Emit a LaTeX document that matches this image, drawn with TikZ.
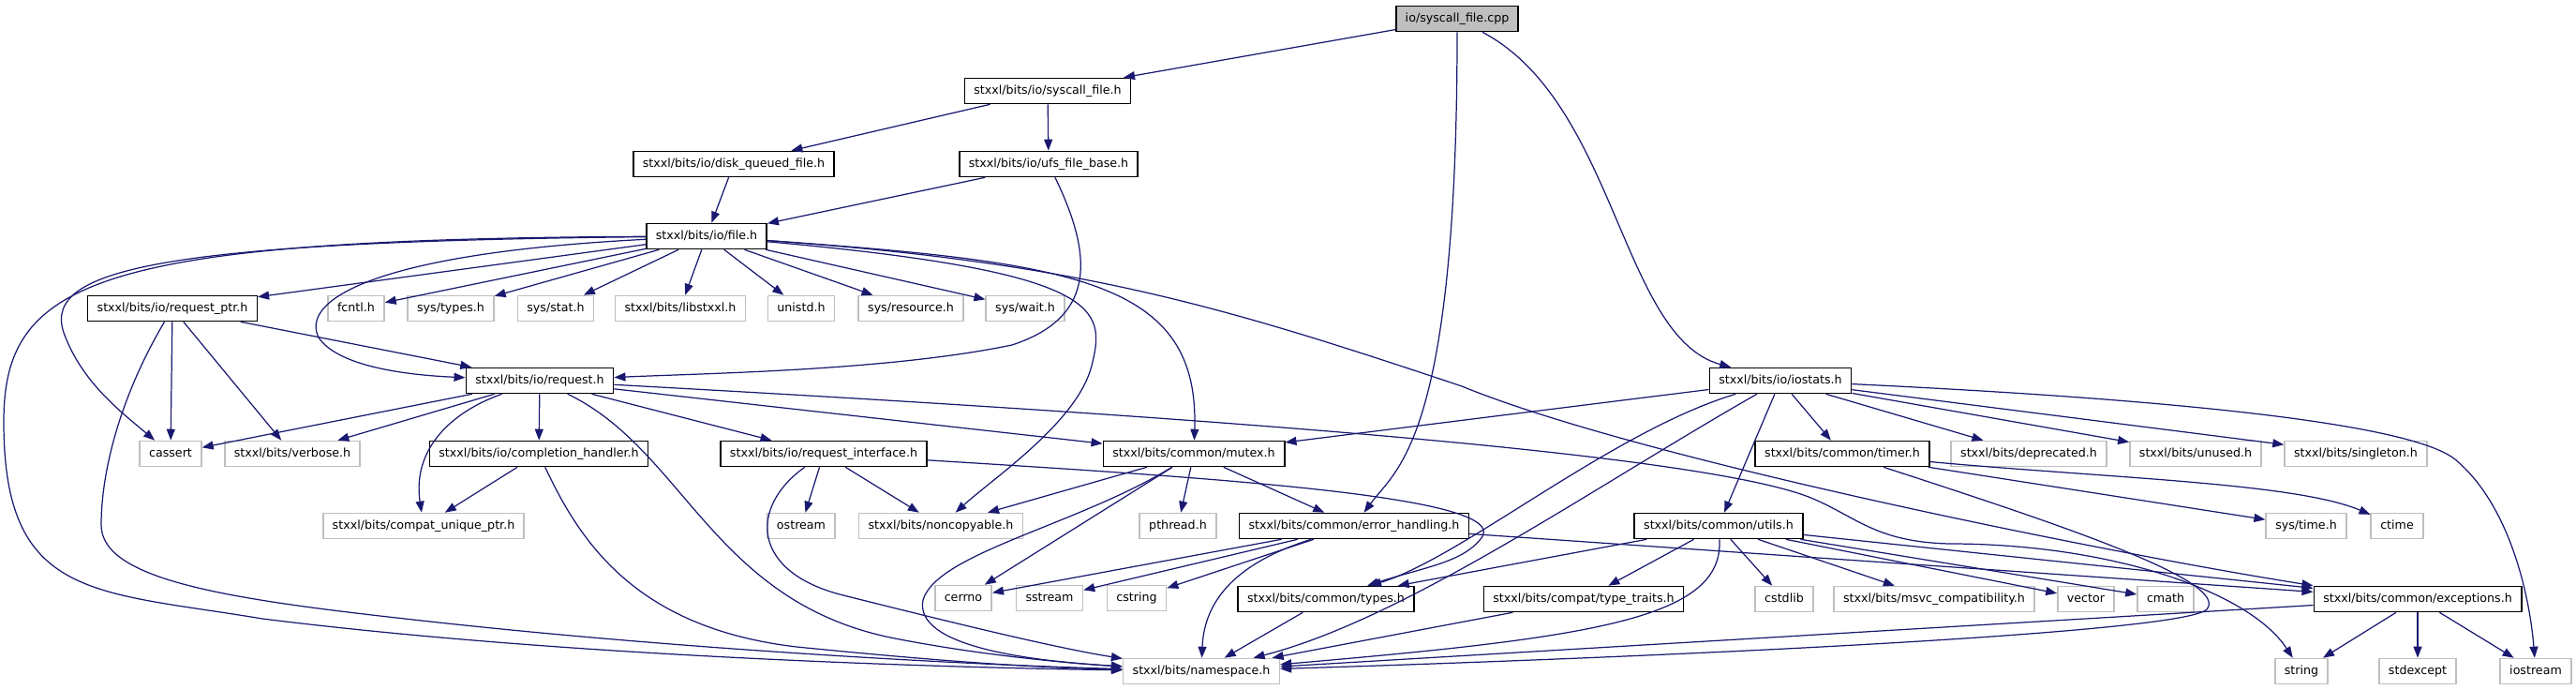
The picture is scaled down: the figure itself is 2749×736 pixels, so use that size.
\documentclass[tikz,border=0pt]{standalone}
\usepackage{fontspec}
\setmainfont{DejaVu Sans}
\usepackage{tikz}
\usetikzlibrary{arrows.meta}
\definecolor{edgeblue}{RGB}{25,25,112}
\definecolor{sysgray}{RGB}{191,191,191}
\definecolor{rootgray}{RGB}{191,191,191}

\begin{document}
\begin{tikzpicture}[
  x=0.02cm, y=-0.02cm,
  font=\fontsize{7.2}{8.6}\selectfont,
  docbox/.style={draw=black,line width=0.9pt,fill=white,minimum height=0.54cm,inner xsep=0.2cm,inner ysep=0pt,text height=5.4pt,text depth=1.5pt},
  sysbox/.style={docbox,draw=sysgray},
  rootbox/.style={docbox,fill=rootgray},
  dep/.style={-{Triangle[length=0.24cm,width=0.18cm]},color=edgeblue,line width=0.7pt},
]
\useasboundingbox (0,0) rectangle (2749,736);

\node[rootbox] (root) at (1555,20) {io/syscall\_file.cpp};
\node[docbox] (sysfile) at (1118,97) {stxxl/bits/io/syscall\_file.h};
\node[docbox] (diskq) at (783,175) {stxxl/bits/io/disk\_queued\_file.h};
\node[docbox] (ufs) at (1119,175) {stxxl/bits/io/ufs\_file\_base.h};
\node[docbox] (file) at (754,252) {stxxl/bits/io/file.h};

\node[docbox] (reqptr) at (184,329) {stxxl/bits/io/request\_ptr.h};
\node[sysbox] (fcntl) at (380,329) {fcntl.h};
\node[sysbox] (systypes) at (481,329) {sys/types.h};
\node[sysbox] (sysstat) at (593,329) {sys/stat.h};
\node[sysbox] (libstxxl) at (726,329) {stxxl/bits/libstxxl.h};
\node[sysbox] (unistd) at (855,329) {unistd.h};
\node[sysbox] (sysres) at (972,329) {sys/resource.h};
\node[sysbox] (syswait) at (1094,329) {sys/wait.h};

\node[docbox] (request) at (576,406) {stxxl/bits/io/request.h};
\node[docbox] (iostats) at (1900,406) {stxxl/bits/io/iostats.h};

\node[sysbox] (cassert) at (182,484) {cassert};
\node[sysbox] (verbose) at (312,484) {stxxl/bits/verbose.h};
\node[docbox] (complh) at (575,484) {stxxl/bits/io/completion\_handler.h};
\node[docbox] (reqif) at (879,484) {stxxl/bits/io/request\_interface.h};
\node[docbox] (mutex) at (1274,484) {stxxl/bits/common/mutex.h};
\node[docbox] (timer) at (1966,484) {stxxl/bits/common/timer.h};
\node[sysbox] (deprec) at (2165,484) {stxxl/bits/deprecated.h};
\node[sysbox] (unused) at (2343,484) {stxxl/bits/unused.h};
\node[sysbox] (singleton) at (2514,484) {stxxl/bits/singleton.h};

\node[sysbox] (uniqptr) at (452,561) {stxxl/bits/compat\_unique\_ptr.h};
\node[sysbox] (ostream) at (855,561) {ostream};
\node[sysbox] (noncopy) at (1004,561) {stxxl/bits/noncopyable.h};
\node[sysbox] (pthread) at (1257,561) {pthread.h};
\node[docbox] (errh) at (1445,561) {stxxl/bits/common/error\_handling.h};
\node[docbox] (utils) at (1834,561) {stxxl/bits/common/utils.h};
\node[sysbox] (systime) at (2461,561) {sys/time.h};
\node[sysbox] (ctime) at (2558,561) {ctime};

\node[sysbox] (cerrno) at (1028,638) {cerrno};
\node[sysbox] (sstream) at (1120,638) {sstream};
\node[sysbox] (cstring) at (1213,638) {cstring};
\node[docbox] (types) at (1415,639) {stxxl/bits/common/types.h};
\node[docbox] (typetr) at (1690,639) {stxxl/bits/compat/type\_traits.h};
\node[sysbox] (cstdlib) at (1904,639) {cstdlib};
\node[sysbox] (msvc) at (2064,639) {stxxl/bits/msvc\_compatibility.h};
\node[sysbox] (vector) at (2226,639) {vector};
\node[sysbox] (cmath) at (2311,639) {cmath};
\node[docbox] (except) at (2580,639) {stxxl/bits/common/exceptions.h};

\node[sysbox] (namesp) at (1282,716) {stxxl/bits/namespace.h};
\node[sysbox] (string) at (2456,716) {string};
\node[sysbox] (stdexcept) at (2580,716) {stdexcept};
\node[sysbox] (iostream) at (2706,716) {iostream};

% io/syscall_file.cpp
\draw[dep] (root) -- (sysfile);
\draw[dep] (root) .. controls (1555,470) and (1490,500) .. (errh);
\draw[dep] (root) .. controls (1725,110) and (1730,360) .. (iostats);

\draw[dep] (sysfile) -- (diskq);
\draw[dep] (sysfile) -- (ufs);
\draw[dep] (diskq) -- (file);
\draw[dep] (ufs) -- (file);
\draw[dep] (ufs) .. controls (1170,280) and (1165,340) .. (1080,368) .. controls (950,395) and (760,398) .. (request);

% stxxl/bits/io/file.h
\draw[dep] (file) -- (reqptr);
\draw[dep] (file) -- (fcntl);
\draw[dep] (file) -- (systypes);
\draw[dep] (file) -- (sysstat);
\draw[dep] (file) -- (libstxxl);
\draw[dep] (file) -- (unistd);
\draw[dep] (file) -- (sysres);
\draw[dep] (file) -- (syswait);
\draw[dep] (file) .. controls (400,270) and (320,320) .. (340,360) .. controls (360,390) and (430,400) .. (request);
\draw[dep] (file) .. controls (150,258) and (40,290) .. (70,360) .. controls (90,410) and (130,440) .. (cassert);
\draw[dep] (file) .. controls (100,255) and (4,300) .. (4,450) .. controls (4,640) and (100,630) .. (280,660) .. controls (600,700) and (1000,712) .. (namesp);
\draw[dep] (file) .. controls (1180,290) and (1180,330) .. (1165,390) .. controls (1150,450) and (1060,510) .. (noncopy);
\draw[dep] (file) .. controls (1150,280) and (1280,300) .. (mutex);
\draw[dep] (file) .. controls (1150,280) and (1300,325) .. (1560,412) .. controls (1750,490) and (2250,590) .. (except.north west);

% stxxl/bits/io/request_ptr.h
\draw[dep] (reqptr) -- (cassert);
\draw[dep] (reqptr) -- (verbose);
\draw[dep] (reqptr) -- (request);
\draw[dep] (reqptr) .. controls (130,420) and (108,500) .. (108,560) .. controls (108,620) and (250,640) .. (450,662) .. controls (700,690) and (1000,708) .. (namesp);

% stxxl/bits/io/request.h
\draw[dep] (request) -- (cassert);
\draw[dep] (request) -- (verbose);
\draw[dep] (request) -- (complh);
\draw[dep] (request) -- (reqif);
\draw[dep] (request) -- (mutex);
\draw[dep] (request) .. controls (480,440) and (440,480) .. (uniqptr);
\draw[dep] (request) .. controls (730,480) and (760,640) .. (950,680) .. controls (1050,700) and (1150,708) .. (namesp);
\draw[dep] (request) .. controls (1200,440) and (1800,480) .. (1930,530) .. controls (1980,550) and (2000,578) .. (2080,580) .. controls (2250,580) and (2400,630) .. (string);

\draw[dep] (complh) -- (uniqptr);
\draw[dep] (complh) .. controls (620,580) and (680,670) .. (850,690) .. controls (1000,705) and (1100,712) .. (namesp);

% stxxl/bits/io/request_interface.h
\draw[dep] (reqif) -- (ostream);
\draw[dep] (reqif) -- (noncopy);
\draw[dep] (reqif) .. controls (800,540) and (800,610) .. (900,635) .. controls (1000,660) and (1120,690) .. (namesp);
\draw[dep] (reqif) .. controls (1300,510) and (1620,530) .. (1580,575) .. controls (1560,600) and (1520,605) .. (types);

% stxxl/bits/common/mutex.h
\draw[dep] (mutex) -- (noncopy);
\draw[dep] (mutex) -- (pthread);
\draw[dep] (mutex) -- (errh);
\draw[dep] (mutex) -- (cerrno);
\draw[dep] (mutex) .. controls (1150,560) and (1000,590) .. (985,640) .. controls (975,690) and (1100,705) .. (namesp);

% stxxl/bits/common/error_handling.h
\draw[dep] (errh) -- (cerrno);
\draw[dep] (errh) -- (sstream);
\draw[dep] (errh) -- (cstring);
\draw[dep] (errh) -- (except);
\draw[dep] (errh) .. controls (1320,600) and (1285,640) .. (namesp);

% stxxl/bits/io/iostats.h
\draw[dep] (iostats) -- (mutex);
\draw[dep] (iostats) -- (utils);
\draw[dep] (iostats) -- (timer);
\draw[dep] (iostats) -- (deprec);
\draw[dep] (iostats) -- (unused);
\draw[dep] (iostats) -- (singleton);
\draw[dep] (iostats) .. controls (1720,460) and (1560,595) .. (types);
\draw[dep] (iostats) .. controls (1700,520) and (1500,660) .. (namesp);
\draw[dep] (iostats) .. controls (2300,425) and (2570,450) .. (2620,490) .. controls (2680,540) and (2700,640) .. (iostream);

% stxxl/bits/common/timer.h
\draw[dep] (timer) -- (systime);
\draw[dep] (timer) .. controls (2250,510) and (2450,515) .. (ctime);
\draw[dep] (timer) .. controls (2200,560) and (2380,620) .. (2355,650) .. controls (2330,675) and (1800,700) .. (namesp);

% stxxl/bits/common/utils.h
\draw[dep] (utils) -- (types);
\draw[dep] (utils) -- (typetr);
\draw[dep] (utils) -- (cstdlib);
\draw[dep] (utils) -- (msvc);
\draw[dep] (utils) -- (vector);
\draw[dep] (utils) -- (cmath);
\draw[dep] (utils) -- (except);
\draw[dep] (utils) .. controls (1840,660) and (1700,680) .. (namesp);

\draw[dep] (types) -- (namesp);
\draw[dep] (typetr) -- (namesp);

% stxxl/bits/common/exceptions.h
\draw[dep] (except) -- (namesp);
\draw[dep] (except) -- (string);
\draw[dep] (except) -- (stdexcept);
\draw[dep] (except) -- (iostream);

\end{tikzpicture}
\end{document}
